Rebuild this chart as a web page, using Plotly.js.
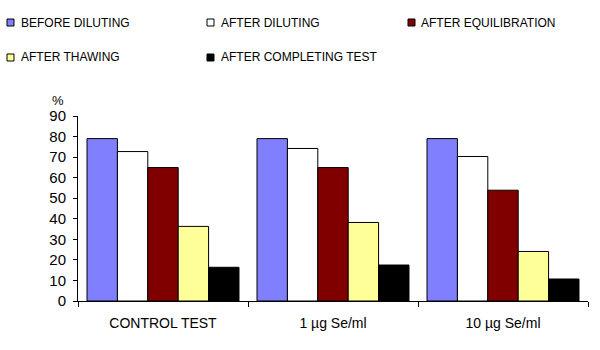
<!DOCTYPE html>
<html>
<head>
<meta charset="utf-8">
<script src="https://cdn.plot.ly/plotly-3.0.1.min.js"></script>
<style>html,body{margin:0;padding:0;background:#fff;}#chart{width:600px;height:350px;}</style>
</head>
<body>
<div id="chart"></div>
<script>
var categories = ["CONTROL TEST", "1 \u00b5g Se/ml", "10 \u00b5g Se/ml"];
var seriesNames = ["BEFORE DILUTING", "AFTER DILUTING", "AFTER EQUILIBRATION", "AFTER THAWING", "AFTER COMPLETING TEST"];
var beforeDiluting = [79.0, 79.0, 79.0];
var afterDiluting = [72.7, 74.2, 70.3];
var afterEquilibration = [64.9, 64.9, 53.9];
var afterThawing = [36.3, 38.2, 24.1];
var afterCompletingTest = [16.4, 17.5, 10.7];
var seriesColors = ["#8080FF", "#FFFFFF", "#800000", "#FFFF99", "#000000"];
var yTickVals = [0, 10, 20, 30, 40, 50, 60, 70, 80, 90];

var seriesValues = [beforeDiluting, afterDiluting, afterEquilibration, afterThawing, afterCompletingTest];
var FONT = "Arial, 'Liberation Sans', sans-serif";

var W = 600, H = 350;
var M = {l: 78, r: 12, t: 116, b: 49};
var plotW = W - M.l - M.r, plotH = H - M.t - M.b;
function px2x(px) { return (px - M.l) / plotW; }
function py2y(py) { return (H - M.b - py) / plotH; }

var traces = seriesValues.map(function (vals, i) {
  return {
    type: "bar",
    name: seriesNames[i],
    x: categories,
    y: vals,
    marker: {color: seriesColors[i], line: {color: "#000000", width: 1}},
    showlegend: false,
    hoverinfo: "x+y+name"
  };
});

// custom legend layout (positions only)
var legendPos = [
  {mx: 7, ty: 22.5, tx: 19},
  {mx: 207, ty: 22.5, tx: 219},
  {mx: 408, ty: 22.5, tx: 419},
  {mx: 7, ty: 57.5, tx: 19},
  {mx: 207, ty: 57.5, tx: 219}
];
var shapes = [], annotations = [];
seriesNames.forEach(function (name, i) {
  var p = legendPos[i];
  shapes.push({
    type: "rect", xref: "paper", yref: "paper",
    x0: px2x(p.mx), x1: px2x(p.mx + 7),
    y0: py2y(p.ty + 3.5), y1: py2y(p.ty - 3.5),
    fillcolor: seriesColors[i], line: {color: "#000000", width: 1}
  });
  annotations.push({
    xref: "paper", yref: "paper", x: px2x(p.tx), y: py2y(p.ty),
    xanchor: "left", yanchor: "middle", showarrow: false,
    text: name, font: {family: FONT, size: 12, color: "#000000"}
  });
});
annotations.push({
  xref: "paper", yref: "paper", x: px2x(58), y: py2y(101),
  xanchor: "center", yanchor: "middle", showarrow: false,
  text: "%", font: {family: FONT, size: 13, color: "#000000"}
});

var layout = {
  width: W, height: H,
  margin: M,
  paper_bgcolor: "#ffffff", plot_bgcolor: "#ffffff",
  barmode: "group", bargap: 0.106, bargroupgap: 0,
  showlegend: false,
  font: {family: FONT, color: "#000000"},
  xaxis: {
    type: "category",
    showline: true, linecolor: "#000000", linewidth: 1,
    ticks: "outside", tickson: "boundaries", ticklen: 5, tickcolor: "#000000",
    showgrid: false, zeroline: false,
    ticklabelstandoff: 9,
    tickfont: {family: FONT, size: 14, color: "#000000"}
  },
  yaxis: {
    range: [0, 90],
    tickvals: yTickVals,
    showline: true, linecolor: "#000000", linewidth: 1,
    ticks: "outside", ticklen: 4, tickcolor: "#000000",
    showgrid: false, zeroline: false,
    ticklabelstandoff: 4,
    tickfont: {family: FONT, size: 15, color: "#000000"}
  },
  shapes: shapes,
  annotations: annotations
};

Plotly.newPlot("chart", traces, layout, {displayModeBar: false, staticPlot: true});
</script>
</body>
</html>
